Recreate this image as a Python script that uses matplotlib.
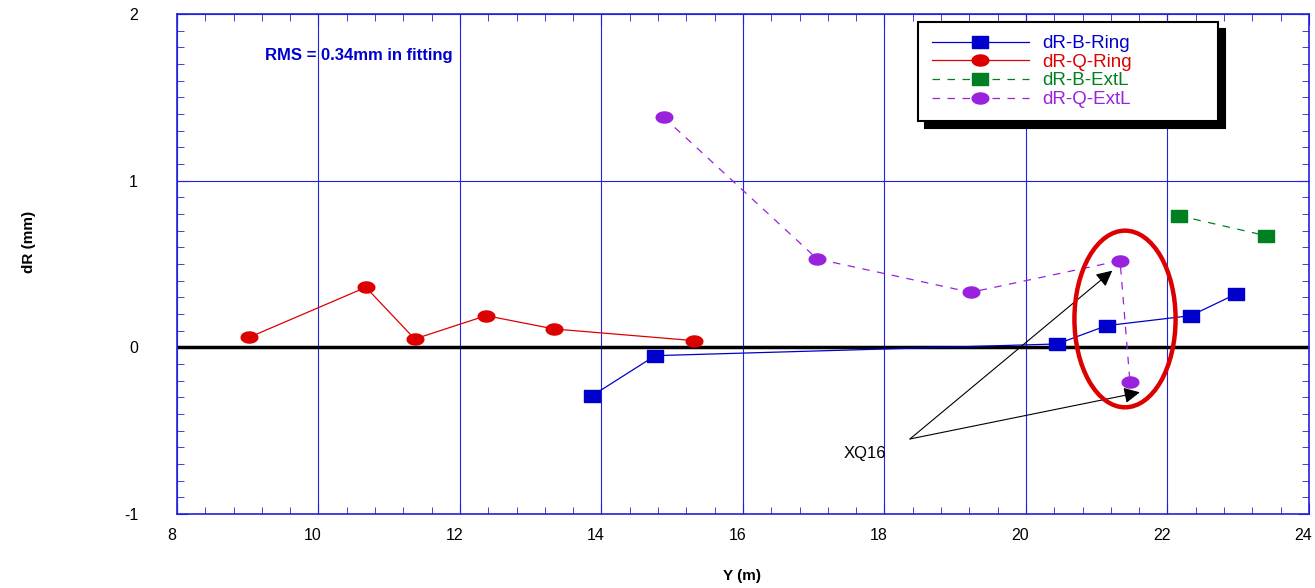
import numpy as np
import matplotlib
matplotlib.use("Agg")
import matplotlib.pyplot as plt
from matplotlib.patches import Ellipse
from matplotlib.ticker import MultipleLocator
from matplotlib.transforms import ScaledTranslation

plt.rcParams['font.family'] = ['Liberation Sans', 'DejaVu Sans']
plt.rcParams['axes.unicode_minus'] = False

# data
q_ring_x = [9.02, 10.67, 11.36, 12.37, 13.33, 15.31]
q_ring_y = [0.06, 0.36, 0.05, 0.19, 0.11, 0.04]

b_ring_x = [13.87, 14.76, 20.44, 21.14, 22.33, 22.97]
b_ring_y = [-0.29, -0.05, 0.02, 0.13, 0.19, 0.32]

b_extl_x = [22.16, 23.39]
b_extl_y = [0.79, 0.67]

q_extl_x = [14.88, 17.05, 19.22, 21.33, 21.47]
q_extl_y = [1.38, 0.53, 0.33, 0.52, -0.21]

xq16_label = "XQ16"
xq16_from = (18.36, -0.55)
xq16_to = [(21.22, 0.46), (21.61, -0.27)]

blue = '#0000cc'
red = '#dd0000'
green = '#008020'
purple = '#9922dd'
gridc = '#2222dd'

# wide rectangle and ellipse markers
rect = [(-1.4, -1), (1.4, -1), (1.4, 1), (-1.4, 1), (-1.4, -1)]
t = np.linspace(0, 2 * np.pi, 40)
ell = list(zip(1.5 * np.cos(t), 1.0 * np.sin(t)))

fig = plt.figure(figsize=(13.15, 5.88), dpi=100)
ax = fig.add_axes([0.1346, 0.1259, 0.8608, 0.8503])

l1, = ax.plot(b_ring_x, b_ring_y, color=blue, lw=0.9, marker=rect, ms=12,
              mec=blue, mfc=blue, label='dR-B-Ring')
l2, = ax.plot(q_ring_x, q_ring_y, color=red, lw=0.9, marker=ell, ms=12,
              mec=red, mfc=red, label='dR-Q-Ring')
l3, = ax.plot(b_extl_x, b_extl_y, color=green, lw=0.9, ls=(0, (6, 6)), marker=rect, ms=12,
              mec=green, mfc=green, label='dR-B-ExtL')
l4, = ax.plot(q_extl_x, q_extl_y, color=purple, lw=0.9, ls=(0, (6, 6)), marker=ell, ms=12,
              mec=purple, mfc=purple, label='dR-Q-ExtL')

ax.axhline(0, color='black', lw=2.5, zorder=1)

ax.set_xlim(8, 24)
ax.set_ylim(-1, 2)
ax.xaxis.set_major_locator(MultipleLocator(2))
ax.xaxis.set_minor_locator(MultipleLocator(0.4))
ax.yaxis.set_major_locator(MultipleLocator(1))
ax.yaxis.set_minor_locator(MultipleLocator(0.1))
ax.grid(True, which='major', color=gridc, lw=0.8, zorder=0)
ax.set_axisbelow(True)
ax.tick_params(which='both', direction='in', top=True, right=True, color=gridc,
               labelsize=11.5, labelcolor='black')
ax.tick_params(axis='x', which='both', pad=10)
ax.tick_params(axis='y', which='both', pad=28)
ax.tick_params(which='major', length=8)
ax.tick_params(which='minor', length=5)
for s in ax.spines.values():
    s.set_color(gridc)
    s.set_linewidth(1.2)

# x tick labels sit a little left of their ticks in the picture
shift = ScaledTranslation(-4 / 72, 0, fig.dpi_scale_trans)
for lab in ax.get_xticklabels():
    lab.set_transform(lab.get_transform() + shift)

ax.set_xlabel('Y (m)', fontsize=11, fontweight='bold')
ax.set_ylabel('dR (mm)', fontsize=11, fontweight='bold')
ax.xaxis.set_label_coords(0.499, -0.11)
ax.yaxis.set_label_coords(-0.125, 0.544)

ax.text(9.24, 1.75, 'RMS = 0.34mm in fitting', color=blue, fontsize=12,
        fontweight='bold', va='center', ha='left')

ax.add_patch(Ellipse((21.40, 0.17), 1.43, 1.06, fill=False, ec=red, lw=3.2, zorder=5))
for end in xq16_to:
    ax.annotate('', xy=end, xytext=xq16_from,
                arrowprops=dict(arrowstyle='-|>', color='black', lw=0.8,
                                mutation_scale=24, shrinkA=0, shrinkB=0))
ax.text(17.72, -0.64, xq16_label, fontsize=12, ha='center', va='center')

leg = ax.legend(handles=[l1, l2, l3, l4], loc='upper left',
                bbox_to_anchor=(0.655, 0.798, 0.265, 0.186), mode='expand',
                fontsize=13.5, frameon=True, fancybox=False, borderpad=0.7,
                labelspacing=0.08, handlelength=5.2, handletextpad=0.7,
                borderaxespad=0, shadow={'color': 'black', 'alpha': 1.0, 'ox': 5, 'oy': -5})
leg.get_frame().set_edgecolor('black')
leg.get_frame().set_linewidth(1.5)
for txt, c in zip(leg.get_texts(), [blue, red, green, purple]):
    txt.set_color(c)

fig.savefig('out.png', dpi=100)
